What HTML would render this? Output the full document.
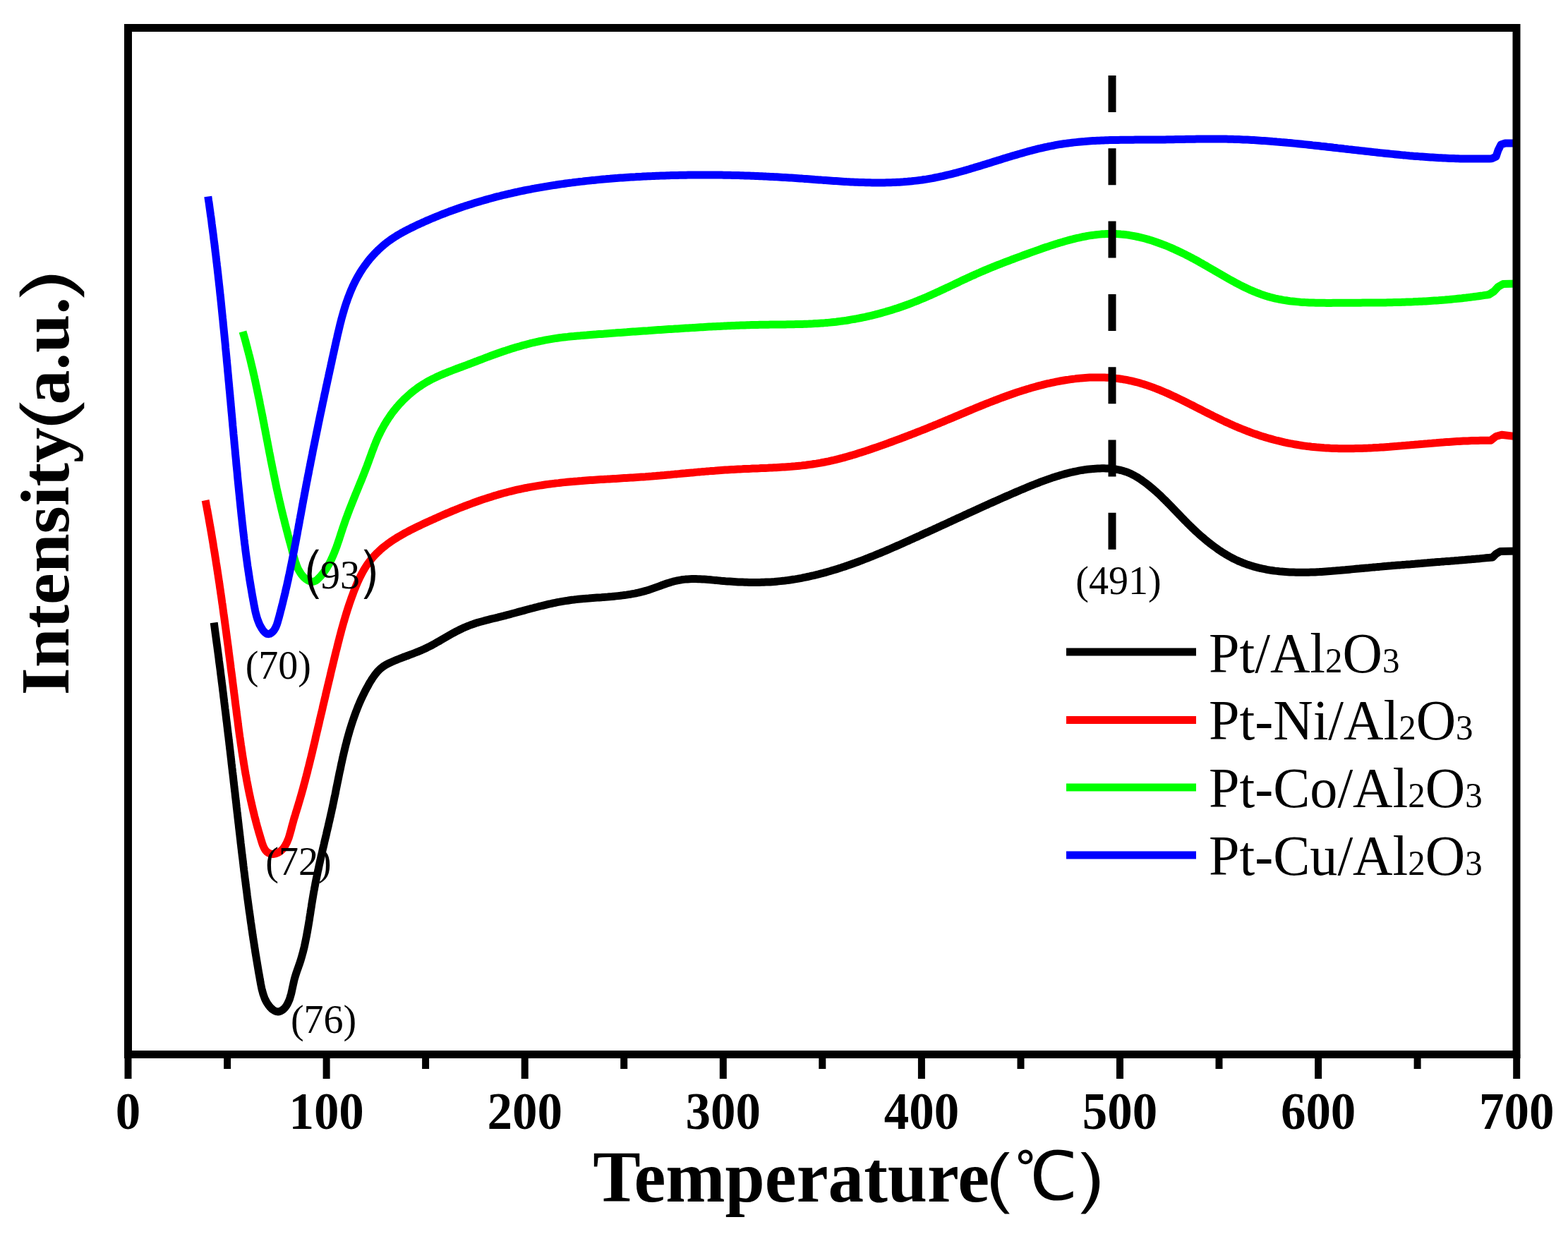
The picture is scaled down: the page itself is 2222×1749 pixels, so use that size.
<!DOCTYPE html><html><head><meta charset="utf-8"><title>TPR</title><style>html,body{margin:0;padding:0;background:#fff;overflow:hidden}svg{display:block}.b{font-family:"Liberation Serif","Noto Serif CJK SC",serif;font-weight:bold}.r{font-family:"Liberation Serif","Noto Serif CJK SC",serif;font-weight:normal}</style></head><body><svg xmlns="http://www.w3.org/2000/svg" width="2222" height="1749" viewBox="0 0 2222 1749"><rect width="2222" height="1749" fill="#fff"/><path d="M303.2 882.6 L303.6 885.6 L304.0 888.5 L304.4 891.5 L304.8 894.4 L305.2 897.4 L305.6 900.3 L306.0 903.3 L306.4 906.2 L306.8 909.2 L307.2 912.2 L307.6 915.1 L308.0 918.1 L308.4 921.1 L308.8 924.0 L309.2 927.0 L309.6 930.0 L310.0 932.9 L310.3 935.9 L310.7 938.9 L311.1 941.8 L311.5 944.8 L311.9 947.8 L312.3 950.8 L312.6 953.7 L313.0 956.7 L313.4 959.7 L313.8 962.7 L314.1 965.6 L314.5 968.6 L314.9 971.6 L315.3 974.6 L315.6 977.5 L316.0 980.5 L316.4 983.5 L316.7 986.5 L317.1 989.5 L317.5 992.4 L317.8 995.4 L318.2 998.4 L318.6 1001.4 L318.9 1004.4 L319.3 1007.3 L319.7 1010.3 L320.0 1013.3 L320.4 1016.3 L320.7 1019.3 L321.1 1022.3 L321.5 1025.2 L321.8 1028.2 L322.2 1031.2 L322.5 1034.2 L322.9 1037.2 L323.2 1040.2 L323.6 1043.1 L324.0 1046.1 L324.3 1049.1 L324.7 1052.1 L325.0 1055.1 L325.4 1058.1 L325.7 1061.1 L326.1 1064.0 L326.4 1067.0 L326.8 1070.0 L327.1 1073.0 L327.5 1076.0 L327.8 1079.0 L328.1 1081.9 L328.5 1084.9 L328.8 1087.9 L329.2 1090.9 L329.5 1093.9 L329.9 1096.8 L330.2 1099.8 L330.6 1102.8 L330.9 1105.8 L331.2 1108.8 L331.6 1111.7 L331.9 1114.7 L332.3 1117.7 L332.6 1120.7 L333.0 1123.6 L333.3 1126.6 L333.6 1129.6 L334.0 1132.6 L334.3 1135.5 L334.7 1138.5 L335.0 1141.5 L335.3 1144.4 L335.7 1147.4 L336.0 1150.4 L336.4 1153.4 L336.7 1156.3 L337.0 1159.3 L337.4 1162.3 L337.7 1165.2 L338.1 1168.2 L338.4 1171.2 L338.7 1174.1 L339.1 1177.1 L339.4 1180.0 L339.8 1183.0 L340.1 1186.0 L340.5 1188.9 L340.8 1191.9 L341.1 1194.9 L341.5 1197.8 L341.8 1200.8 L342.2 1203.7 L342.5 1206.7 L342.9 1209.7 L343.2 1212.6 L343.6 1215.6 L344.0 1218.5 L344.3 1221.5 L344.7 1224.5 L345.0 1227.4 L345.4 1230.4 L345.7 1233.4 L346.1 1236.3 L346.5 1239.3 L346.8 1242.2 L347.2 1245.2 L347.6 1248.2 L348.0 1251.1 L348.3 1254.1 L348.7 1257.1 L349.1 1260.0 L349.5 1263.0 L349.9 1266.0 L350.2 1268.9 L350.6 1271.9 L351.0 1274.9 L351.4 1277.8 L351.8 1280.8 L352.2 1283.8 L352.6 1286.7 L353.0 1289.7 L353.4 1292.7 L353.9 1295.7 L354.3 1298.6 L354.7 1301.6 L355.1 1304.6 L355.5 1307.6 L356.0 1310.5 L356.4 1313.5 L356.8 1316.5 L357.3 1319.5 L357.7 1322.5 L358.1 1325.4 L358.6 1328.4 L359.0 1331.4 L359.5 1334.4 L360.0 1337.4 L360.4 1340.4 L360.9 1343.4 L361.4 1346.4 L361.8 1349.4 L362.3 1352.4 L362.8 1355.3 L363.3 1358.3 L363.8 1361.3 L364.3 1364.4 L364.8 1367.4 L365.3 1370.4 L365.8 1373.4 L366.3 1376.4 L366.8 1379.4 L367.4 1382.4 L367.9 1385.4 L368.4 1388.4 L369.0 1391.5 L369.5 1394.5 L370.1 1397.5 L370.7 1400.4 L371.4 1403.4 L372.2 1406.3 L373.0 1409.2 L374.0 1412.0 L375.0 1414.7 L376.2 1417.4 L377.5 1419.9 L379.0 1422.4 L380.7 1424.8 L382.5 1427.1 L384.5 1429.2 L386.6 1431.0 L388.9 1432.5 L391.2 1433.5 L393.5 1433.9 L395.9 1433.7 L398.1 1432.8 L400.3 1431.5 L402.4 1429.7 L404.3 1427.7 L405.9 1425.4 L407.4 1422.9 L408.7 1420.2 L409.9 1417.4 L410.9 1414.4 L411.8 1411.4 L412.7 1408.3 L413.4 1405.1 L414.1 1401.9 L414.8 1398.6 L415.5 1395.4 L416.2 1392.2 L416.9 1389.1 L417.7 1386.1 L418.6 1383.1 L419.5 1380.3 L420.4 1377.5 L421.4 1374.7 L422.4 1371.9 L423.3 1369.2 L424.3 1366.5 L425.2 1363.8 L426.1 1361.0 L426.9 1358.2 L427.7 1355.4 L428.5 1352.6 L429.3 1349.8 L430.0 1346.9 L430.7 1344.1 L431.4 1341.2 L432.0 1338.3 L432.6 1335.4 L433.2 1332.5 L433.8 1329.5 L434.4 1326.6 L434.9 1323.7 L435.5 1320.7 L436.0 1317.7 L436.5 1314.8 L437.0 1311.8 L437.5 1308.8 L438.0 1305.8 L438.5 1302.8 L438.9 1299.8 L439.4 1296.8 L439.9 1293.8 L440.3 1290.8 L440.8 1287.8 L441.3 1284.8 L441.7 1281.8 L442.2 1278.8 L442.7 1275.9 L443.2 1272.9 L443.7 1269.9 L444.2 1266.9 L444.7 1263.9 L445.3 1261.0 L445.8 1258.0 L446.4 1255.1 L446.9 1252.1 L447.5 1249.2 L448.1 1246.2 L448.7 1243.3 L449.3 1240.4 L449.9 1237.4 L450.5 1234.5 L451.2 1231.6 L451.8 1228.7 L452.4 1225.7 L453.1 1222.8 L453.7 1219.9 L454.4 1217.0 L455.0 1214.1 L455.7 1211.2 L456.4 1208.3 L457.0 1205.4 L457.7 1202.5 L458.4 1199.6 L459.1 1196.7 L459.7 1193.8 L460.4 1190.9 L461.1 1188.0 L461.8 1185.1 L462.5 1182.2 L463.1 1179.3 L463.8 1176.4 L464.5 1173.5 L465.2 1170.6 L465.8 1167.7 L466.5 1164.8 L467.2 1161.9 L467.8 1159.0 L468.5 1156.1 L469.1 1153.1 L469.8 1150.2 L470.4 1147.3 L471.1 1144.4 L471.7 1141.4 L472.3 1138.5 L472.9 1135.6 L473.5 1132.6 L474.1 1129.7 L474.8 1126.7 L475.4 1123.8 L475.9 1120.8 L476.5 1117.9 L477.1 1114.9 L477.7 1112.0 L478.3 1109.0 L478.9 1106.1 L479.5 1103.1 L480.1 1100.1 L480.7 1097.2 L481.3 1094.2 L482.0 1091.3 L482.6 1088.3 L483.2 1085.4 L483.8 1082.4 L484.5 1079.5 L485.1 1076.6 L485.8 1073.6 L486.4 1070.7 L487.1 1067.7 L487.8 1064.8 L488.5 1061.9 L489.2 1059.0 L489.9 1056.1 L490.7 1053.1 L491.4 1050.2 L492.2 1047.3 L493.0 1044.4 L493.8 1041.6 L494.6 1038.7 L495.4 1035.8 L496.3 1032.9 L497.2 1030.1 L498.1 1027.2 L499.0 1024.4 L499.9 1021.6 L500.9 1018.7 L501.9 1015.9 L502.9 1013.1 L503.9 1010.3 L505.0 1007.5 L506.0 1004.8 L507.1 1002.0 L508.3 999.2 L509.4 996.5 L510.6 993.8 L511.8 991.0 L513.1 988.3 L514.4 985.6 L515.7 983.0 L517.0 980.3 L518.4 977.6 L519.8 975.0 L521.3 972.4 L522.7 969.7 L524.2 967.1 L525.8 964.6 L527.4 962.0 L529.1 959.5 L530.8 957.1 L532.6 954.7 L534.5 952.4 L536.5 950.3 L538.6 948.2 L540.9 946.3 L543.3 944.5 L545.8 942.9 L548.5 941.4 L551.2 940.0 L554.0 938.7 L556.8 937.5 L559.6 936.3 L562.4 935.1 L565.2 934.0 L568.0 932.9 L570.8 931.8 L573.6 930.8 L576.4 929.7 L579.2 928.7 L582.0 927.6 L584.8 926.6 L587.6 925.5 L590.4 924.4 L593.1 923.3 L595.9 922.2 L598.6 921.0 L601.4 919.8 L604.1 918.5 L606.7 917.2 L609.4 915.9 L612.1 914.5 L614.7 913.0 L617.3 911.6 L619.9 910.1 L622.6 908.6 L625.2 907.1 L627.8 905.6 L630.4 904.1 L633.0 902.6 L635.6 901.1 L638.2 899.6 L640.8 898.1 L643.5 896.6 L646.1 895.2 L648.8 893.8 L651.4 892.5 L654.1 891.2 L656.8 889.9 L659.6 888.7 L662.3 887.6 L665.1 886.5 L667.9 885.4 L670.7 884.5 L673.5 883.5 L676.3 882.6 L679.2 881.8 L682.1 881.0 L685.0 880.2 L687.9 879.4 L690.8 878.7 L693.7 877.9 L696.6 877.2 L699.5 876.5 L702.4 875.8 L705.3 875.1 L708.2 874.3 L711.2 873.6 L714.1 872.9 L717.0 872.1 L719.9 871.3 L722.8 870.6 L725.7 869.8 L728.6 869.0 L731.5 868.2 L734.4 867.4 L737.3 866.6 L740.2 865.9 L743.1 865.1 L746.0 864.3 L748.9 863.5 L751.8 862.7 L754.7 862.0 L757.6 861.2 L760.5 860.5 L763.4 859.7 L766.3 859.0 L769.2 858.3 L772.2 857.6 L775.1 856.9 L778.0 856.2 L780.9 855.6 L783.8 854.9 L786.8 854.3 L789.7 853.7 L792.6 853.2 L795.6 852.6 L798.5 852.1 L801.4 851.6 L804.4 851.2 L807.4 850.7 L810.3 850.3 L813.3 850.0 L816.3 849.6 L819.2 849.3 L822.2 849.0 L825.2 848.7 L828.2 848.4 L831.2 848.2 L834.2 848.0 L837.2 847.7 L840.2 847.5 L843.2 847.3 L846.1 847.1 L849.1 846.9 L852.1 846.7 L855.1 846.4 L858.1 846.2 L861.1 846.0 L864.1 845.7 L867.1 845.5 L870.1 845.2 L873.1 844.9 L876.0 844.6 L879.0 844.3 L882.0 843.9 L884.9 843.5 L887.9 843.1 L890.8 842.6 L893.8 842.2 L896.7 841.6 L899.7 841.1 L902.6 840.5 L905.5 839.8 L908.4 839.1 L911.3 838.4 L914.2 837.6 L917.1 836.8 L920.0 835.9 L922.8 834.9 L925.7 833.9 L928.5 832.9 L931.4 831.9 L934.2 830.9 L937.0 829.8 L939.9 828.8 L942.7 827.8 L945.5 826.8 L948.4 825.9 L951.2 825.0 L954.1 824.2 L957.0 823.5 L959.8 822.8 L962.7 822.3 L965.6 821.8 L968.5 821.4 L971.4 821.1 L974.3 820.9 L977.3 820.7 L980.2 820.6 L983.2 820.6 L986.1 820.6 L989.1 820.7 L992.0 820.8 L995.0 820.9 L998.0 821.1 L1001.0 821.3 L1004.0 821.6 L1007.0 821.8 L1010.0 822.1 L1013.0 822.4 L1016.0 822.6 L1019.0 822.9 L1022.0 823.2 L1025.0 823.4 L1028.1 823.7 L1031.1 823.9 L1034.1 824.1 L1037.1 824.3 L1040.1 824.5 L1043.2 824.7 L1046.2 824.9 L1049.2 825.0 L1052.2 825.1 L1055.3 825.2 L1058.3 825.3 L1061.3 825.4 L1064.3 825.4 L1067.4 825.5 L1070.4 825.5 L1073.4 825.4 L1076.4 825.4 L1079.4 825.3 L1082.4 825.3 L1085.4 825.1 L1088.4 825.0 L1091.4 824.9 L1094.4 824.7 L1097.4 824.5 L1100.4 824.2 L1103.3 823.9 L1106.3 823.6 L1109.3 823.3 L1112.2 823.0 L1115.2 822.6 L1118.2 822.2 L1121.1 821.8 L1124.1 821.3 L1127.0 820.9 L1129.9 820.4 L1132.9 819.8 L1135.8 819.3 L1138.7 818.7 L1141.6 818.1 L1144.5 817.5 L1147.4 816.9 L1150.3 816.2 L1153.2 815.6 L1156.1 814.9 L1159.0 814.2 L1161.9 813.4 L1164.8 812.7 L1167.7 811.9 L1170.6 811.1 L1173.4 810.3 L1176.3 809.5 L1179.2 808.6 L1182.0 807.7 L1184.9 806.9 L1187.7 806.0 L1190.6 805.1 L1193.4 804.1 L1196.3 803.2 L1199.1 802.2 L1201.9 801.3 L1204.8 800.3 L1207.6 799.3 L1210.4 798.3 L1213.2 797.2 L1216.0 796.2 L1218.9 795.1 L1221.7 794.1 L1224.5 793.0 L1227.3 791.9 L1230.1 790.8 L1232.9 789.7 L1235.7 788.6 L1238.5 787.5 L1241.2 786.3 L1244.0 785.2 L1246.8 784.1 L1249.6 782.9 L1252.4 781.7 L1255.1 780.6 L1257.9 779.4 L1260.7 778.2 L1263.4 777.0 L1266.2 775.8 L1269.0 774.6 L1271.7 773.4 L1274.5 772.2 L1277.2 771.0 L1280.0 769.7 L1282.7 768.5 L1285.5 767.3 L1288.2 766.1 L1290.9 764.8 L1293.7 763.6 L1296.4 762.3 L1299.2 761.1 L1301.9 759.9 L1304.6 758.6 L1307.3 757.4 L1310.1 756.1 L1312.8 754.9 L1315.5 753.7 L1318.2 752.4 L1321.0 751.2 L1323.7 749.9 L1326.4 748.7 L1329.1 747.4 L1331.8 746.2 L1334.5 744.9 L1337.2 743.7 L1340.0 742.4 L1342.7 741.2 L1345.4 739.9 L1348.1 738.7 L1350.8 737.4 L1353.5 736.2 L1356.2 734.9 L1358.9 733.7 L1361.7 732.4 L1364.4 731.2 L1367.1 729.9 L1369.8 728.7 L1372.5 727.4 L1375.2 726.2 L1377.9 725.0 L1380.7 723.7 L1383.4 722.5 L1386.1 721.2 L1388.8 720.0 L1391.5 718.8 L1394.3 717.5 L1397.0 716.3 L1399.7 715.1 L1402.4 713.8 L1405.2 712.6 L1407.9 711.4 L1410.6 710.2 L1413.4 708.9 L1416.1 707.7 L1418.9 706.5 L1421.6 705.3 L1424.3 704.1 L1427.1 702.9 L1429.9 701.7 L1432.6 700.5 L1435.4 699.3 L1438.1 698.1 L1440.9 696.9 L1443.7 695.7 L1446.4 694.5 L1449.2 693.4 L1452.0 692.2 L1454.8 691.0 L1457.5 689.9 L1460.3 688.7 L1463.1 687.6 L1465.9 686.5 L1468.7 685.4 L1471.5 684.3 L1474.3 683.2 L1477.2 682.1 L1480.0 681.1 L1482.8 680.1 L1485.6 679.1 L1488.5 678.1 L1491.3 677.1 L1494.2 676.2 L1497.0 675.3 L1499.9 674.4 L1502.7 673.5 L1505.6 672.7 L1508.5 671.9 L1511.4 671.1 L1514.3 670.4 L1517.2 669.7 L1520.1 669.0 L1523.0 668.4 L1525.9 667.8 L1528.8 667.2 L1531.7 666.7 L1534.7 666.2 L1537.6 665.7 L1540.6 665.3 L1543.5 665.0 L1546.5 664.7 L1549.5 664.4 L1552.5 664.2 L1555.5 664.0 L1558.5 663.9 L1561.5 663.8 L1564.5 663.8 L1567.5 663.9 L1570.5 664.0 L1573.4 664.2 L1576.4 664.5 L1579.4 664.9 L1582.3 665.3 L1585.3 665.9 L1588.2 666.5 L1591.1 667.3 L1594.0 668.2 L1596.8 669.1 L1599.6 670.2 L1602.4 671.4 L1605.1 672.8 L1607.8 674.2 L1610.5 675.7 L1613.1 677.3 L1615.7 679.0 L1618.2 680.8 L1620.7 682.6 L1623.2 684.4 L1625.6 686.2 L1628.0 688.1 L1630.3 690.0 L1632.6 691.9 L1634.9 693.9 L1637.1 695.8 L1639.3 697.8 L1641.5 699.8 L1643.7 701.8 L1645.8 703.8 L1647.9 705.9 L1650.0 707.9 L1652.1 710.0 L1654.2 712.1 L1656.2 714.2 L1658.3 716.3 L1660.3 718.4 L1662.3 720.5 L1664.4 722.6 L1666.4 724.7 L1668.5 726.9 L1670.5 729.0 L1672.6 731.1 L1674.6 733.3 L1676.7 735.4 L1678.8 737.6 L1680.9 739.7 L1683.0 741.8 L1685.1 743.9 L1687.3 746.1 L1689.5 748.2 L1691.7 750.3 L1693.9 752.4 L1696.2 754.5 L1698.4 756.5 L1700.7 758.6 L1703.0 760.6 L1705.4 762.6 L1707.7 764.6 L1710.1 766.6 L1712.5 768.5 L1714.9 770.4 L1717.3 772.3 L1719.8 774.1 L1722.3 775.9 L1724.7 777.7 L1727.2 779.5 L1729.8 781.2 L1732.3 782.8 L1734.9 784.4 L1737.5 786.0 L1740.1 787.5 L1742.7 789.0 L1745.3 790.4 L1747.9 791.8 L1750.6 793.1 L1753.3 794.4 L1756.0 795.6 L1758.7 796.7 L1761.4 797.8 L1764.2 798.9 L1766.9 799.9 L1769.7 800.8 L1772.5 801.7 L1775.3 802.6 L1778.1 803.4 L1780.9 804.1 L1783.7 804.9 L1786.6 805.5 L1789.4 806.2 L1792.3 806.7 L1795.2 807.3 L1798.1 807.8 L1801.0 808.3 L1803.9 808.7 L1806.8 809.1 L1809.7 809.4 L1812.6 809.8 L1815.6 810.1 L1818.5 810.3 L1821.5 810.5 L1824.5 810.7 L1827.4 810.9 L1830.4 811.0 L1833.4 811.1 L1836.4 811.2 L1839.4 811.3 L1842.4 811.3 L1845.4 811.3 L1848.5 811.3 L1851.5 811.2 L1854.5 811.2 L1857.5 811.1 L1860.6 811.0 L1863.6 810.9 L1866.6 810.7 L1869.7 810.6 L1872.7 810.4 L1875.7 810.2 L1878.8 810.0 L1881.8 809.8 L1884.9 809.6 L1887.9 809.3 L1891.0 809.1 L1894.0 808.8 L1897.1 808.6 L1900.1 808.3 L1903.1 808.0 L1906.2 807.8 L1909.2 807.5 L1912.3 807.2 L1915.3 806.9 L1918.3 806.6 L1921.3 806.3 L1924.4 806.1 L1927.4 805.8 L1930.4 805.5 L1933.4 805.2 L1936.4 804.9 L1939.4 804.7 L1942.4 804.4 L1945.4 804.1 L1948.4 803.9 L1951.4 803.6 L1954.3 803.4 L1957.3 803.1 L1960.3 802.8 L1963.3 802.6 L1966.2 802.3 L1969.2 802.1 L1972.2 801.8 L1975.1 801.6 L1978.1 801.3 L1981.1 801.1 L1984.0 800.9 L1987.0 800.6 L1989.9 800.4 L1992.9 800.1 L1995.8 799.9 L1998.8 799.7 L2001.7 799.4 L2004.7 799.2 L2007.6 798.9 L2010.6 798.7 L2013.5 798.5 L2016.5 798.2 L2019.4 798.0 L2022.4 797.8 L2025.4 797.5 L2028.3 797.3 L2031.3 797.1 L2034.2 796.8 L2037.2 796.6 L2040.1 796.4 L2043.1 796.1 L2046.0 795.9 L2049.0 795.6 L2052.0 795.4 L2054.9 795.2 L2057.9 794.9 L2060.9 794.7 L2063.9 794.4 L2066.8 794.2 L2069.8 793.9 L2072.8 793.7 L2075.8 793.5 L2078.8 793.2 L2081.8 792.9 L2084.8 792.7 L2087.8 792.4 L2090.8 792.2 L2093.8 791.9 L2096.8 791.7 L2099.8 791.4 L2102.9 791.1 L2105.9 790.8 L2108.9 790.6 L2112.0 790.3 L2115.0 790.0 L2120.0 785.0 L2126.0 781.5 L2150.0 781.0" fill="none" stroke="#000" stroke-width="11" stroke-linejoin="round" stroke-linecap="butt"/><path d="M291.1 709.1 L291.7 712.0 L292.2 715.0 L292.8 717.9 L293.3 720.8 L293.9 723.8 L294.4 726.7 L294.9 729.7 L295.5 732.6 L296.0 735.6 L296.5 738.5 L297.0 741.4 L297.5 744.4 L298.1 747.3 L298.6 750.3 L299.1 753.2 L299.6 756.2 L300.1 759.1 L300.6 762.1 L301.1 765.1 L301.6 768.0 L302.1 771.0 L302.5 773.9 L303.0 776.9 L303.5 779.9 L304.0 782.8 L304.5 785.8 L304.9 788.7 L305.4 791.7 L305.9 794.7 L306.3 797.6 L306.8 800.6 L307.3 803.6 L307.7 806.5 L308.2 809.5 L308.6 812.5 L309.1 815.4 L309.5 818.4 L310.0 821.4 L310.4 824.4 L310.9 827.3 L311.3 830.3 L311.7 833.3 L312.2 836.2 L312.6 839.2 L313.0 842.2 L313.5 845.2 L313.9 848.1 L314.3 851.1 L314.7 854.1 L315.2 857.1 L315.6 860.1 L316.0 863.0 L316.4 866.0 L316.8 869.0 L317.2 872.0 L317.7 874.9 L318.1 877.9 L318.5 880.9 L318.9 883.9 L319.3 886.9 L319.7 889.8 L320.1 892.8 L320.5 895.8 L320.9 898.8 L321.3 901.8 L321.7 904.7 L322.1 907.7 L322.5 910.7 L322.9 913.7 L323.3 916.6 L323.7 919.6 L324.0 922.6 L324.4 925.6 L324.8 928.6 L325.2 931.5 L325.6 934.5 L326.0 937.5 L326.4 940.5 L326.8 943.4 L327.1 946.4 L327.5 949.4 L327.9 952.4 L328.3 955.3 L328.7 958.3 L329.1 961.3 L329.4 964.3 L329.8 967.2 L330.2 970.2 L330.6 973.2 L331.0 976.2 L331.3 979.1 L331.7 982.1 L332.1 985.1 L332.5 988.0 L332.9 991.0 L333.2 994.0 L333.6 996.9 L334.0 999.9 L334.4 1002.9 L334.8 1005.8 L335.1 1008.8 L335.5 1011.8 L335.9 1014.7 L336.3 1017.7 L336.7 1020.6 L337.1 1023.6 L337.4 1026.6 L337.8 1029.5 L338.2 1032.5 L338.6 1035.4 L339.0 1038.4 L339.4 1041.4 L339.8 1044.3 L340.3 1047.3 L340.7 1050.2 L341.1 1053.2 L341.5 1056.1 L342.0 1059.1 L342.4 1062.0 L342.8 1065.0 L343.3 1068.0 L343.7 1070.9 L344.2 1073.9 L344.7 1076.8 L345.1 1079.8 L345.6 1082.7 L346.1 1085.7 L346.6 1088.6 L347.1 1091.6 L347.6 1094.5 L348.1 1097.5 L348.7 1100.4 L349.2 1103.4 L349.7 1106.3 L350.3 1109.3 L350.9 1112.3 L351.4 1115.2 L352.0 1118.2 L352.6 1121.1 L353.2 1124.1 L353.8 1127.0 L354.5 1130.0 L355.1 1132.9 L355.8 1135.9 L356.4 1138.8 L357.1 1141.8 L357.8 1144.7 L358.5 1147.7 L359.2 1150.6 L359.9 1153.6 L360.6 1156.6 L361.4 1159.5 L362.2 1162.5 L362.9 1165.4 L363.7 1168.4 L364.5 1171.3 L365.4 1174.3 L366.2 1177.3 L367.0 1180.2 L367.9 1183.2 L368.8 1186.1 L369.7 1189.1 L370.6 1192.1 L371.5 1195.0 L372.5 1197.9 L373.7 1200.7 L375.0 1203.2 L376.5 1205.5 L378.3 1207.4 L380.4 1208.8 L382.8 1209.9 L385.3 1210.4 L388.0 1210.4 L390.6 1209.9 L393.2 1208.9 L395.7 1207.6 L398.0 1205.9 L400.1 1204.0 L402.0 1201.8 L403.6 1199.4 L405.1 1196.8 L406.5 1194.1 L407.7 1191.2 L408.9 1188.2 L409.9 1185.1 L410.8 1181.9 L411.7 1178.7 L412.6 1175.6 L413.4 1172.4 L414.2 1169.3 L415.1 1166.2 L415.9 1163.3 L416.7 1160.3 L417.6 1157.5 L418.5 1154.6 L419.3 1151.8 L420.2 1149.0 L421.0 1146.3 L421.9 1143.5 L422.7 1140.7 L423.5 1137.9 L424.4 1135.1 L425.2 1132.3 L426.0 1129.5 L426.8 1126.7 L427.6 1123.9 L428.4 1121.0 L429.2 1118.2 L430.0 1115.3 L430.7 1112.5 L431.5 1109.6 L432.3 1106.7 L433.0 1103.8 L433.8 1100.9 L434.5 1098.1 L435.3 1095.2 L436.0 1092.3 L436.7 1089.3 L437.5 1086.4 L438.2 1083.5 L438.9 1080.6 L439.6 1077.7 L440.4 1074.7 L441.1 1071.8 L441.8 1068.9 L442.5 1065.9 L443.2 1063.0 L443.9 1060.0 L444.6 1057.1 L445.3 1054.2 L446.0 1051.2 L446.7 1048.3 L447.3 1045.3 L448.0 1042.4 L448.7 1039.4 L449.4 1036.5 L450.1 1033.6 L450.8 1030.6 L451.5 1027.7 L452.2 1024.7 L452.8 1021.8 L453.5 1018.9 L454.2 1015.9 L454.9 1013.0 L455.6 1010.1 L456.3 1007.2 L457.0 1004.2 L457.6 1001.3 L458.3 998.4 L459.0 995.5 L459.7 992.5 L460.4 989.6 L461.1 986.7 L461.7 983.8 L462.4 980.9 L463.1 978.0 L463.8 975.1 L464.5 972.1 L465.2 969.2 L465.9 966.3 L466.6 963.4 L467.3 960.5 L468.0 957.6 L468.6 954.7 L469.3 951.8 L470.0 948.9 L470.7 946.0 L471.4 943.1 L472.1 940.2 L472.8 937.3 L473.5 934.4 L474.2 931.5 L474.9 928.6 L475.6 925.7 L476.3 922.8 L477.1 919.9 L477.8 917.0 L478.5 914.1 L479.2 911.2 L480.0 908.3 L480.7 905.5 L481.4 902.6 L482.2 899.7 L483.0 896.8 L483.7 893.9 L484.5 891.0 L485.3 888.1 L486.1 885.3 L486.9 882.4 L487.8 879.5 L488.6 876.6 L489.5 873.7 L490.3 870.9 L491.2 868.0 L492.1 865.1 L493.0 862.3 L494.0 859.4 L494.9 856.5 L495.9 853.7 L496.9 850.8 L497.9 847.9 L498.9 845.1 L500.0 842.2 L501.0 839.4 L502.1 836.5 L503.3 833.7 L504.4 830.8 L505.6 828.0 L506.8 825.2 L508.1 822.4 L509.3 819.7 L510.7 817.0 L512.0 814.3 L513.5 811.6 L514.9 809.0 L516.4 806.4 L518.0 803.9 L519.6 801.4 L521.3 799.0 L523.0 796.6 L524.8 794.3 L526.6 792.0 L528.5 789.8 L530.5 787.6 L532.5 785.5 L534.6 783.4 L536.7 781.4 L538.8 779.4 L541.0 777.5 L543.3 775.6 L545.6 773.8 L547.9 772.0 L550.3 770.2 L552.7 768.5 L555.1 766.8 L557.6 765.2 L560.1 763.6 L562.6 762.0 L565.2 760.4 L567.8 758.9 L570.4 757.4 L573.1 755.9 L575.7 754.5 L578.4 753.1 L581.1 751.6 L583.8 750.3 L586.5 748.9 L589.3 747.6 L592.0 746.2 L594.8 744.9 L597.5 743.6 L600.3 742.3 L603.1 741.0 L605.8 739.7 L608.6 738.5 L611.4 737.2 L614.2 736.0 L616.9 734.7 L619.7 733.5 L622.5 732.2 L625.3 731.0 L628.0 729.8 L630.8 728.6 L633.6 727.4 L636.4 726.3 L639.1 725.1 L641.9 723.9 L644.7 722.8 L647.5 721.7 L650.3 720.5 L653.1 719.4 L655.9 718.3 L658.7 717.2 L661.5 716.2 L664.3 715.1 L667.1 714.1 L669.9 713.0 L672.7 712.0 L675.5 711.0 L678.3 710.0 L681.1 709.0 L683.9 708.1 L686.8 707.1 L689.6 706.2 L692.4 705.3 L695.3 704.4 L698.1 703.5 L700.9 702.6 L703.8 701.8 L706.6 700.9 L709.5 700.1 L712.4 699.3 L715.2 698.5 L718.1 697.8 L721.0 697.0 L723.8 696.3 L726.7 695.6 L729.6 694.9 L732.5 694.2 L735.4 693.6 L738.3 693.0 L741.2 692.3 L744.1 691.7 L747.1 691.2 L750.0 690.6 L752.9 690.1 L755.9 689.6 L758.8 689.1 L761.7 688.6 L764.7 688.1 L767.6 687.7 L770.6 687.2 L773.6 686.8 L776.5 686.4 L779.5 686.0 L782.5 685.6 L785.4 685.3 L788.4 684.9 L791.4 684.6 L794.4 684.2 L797.4 683.9 L800.4 683.6 L803.3 683.3 L806.3 683.0 L809.3 682.7 L812.3 682.5 L815.3 682.2 L818.3 682.0 L821.3 681.7 L824.4 681.5 L827.4 681.2 L830.4 681.0 L833.4 680.8 L836.4 680.6 L839.4 680.4 L842.4 680.2 L845.4 680.0 L848.4 679.8 L851.5 679.6 L854.5 679.4 L857.5 679.2 L860.5 679.1 L863.5 678.9 L866.5 678.7 L869.6 678.5 L872.6 678.4 L875.6 678.2 L878.6 678.0 L881.6 677.8 L884.6 677.6 L887.6 677.5 L890.6 677.3 L893.6 677.1 L896.7 676.9 L899.7 676.7 L902.7 676.5 L905.7 676.3 L908.7 676.1 L911.7 675.9 L914.6 675.7 L917.6 675.4 L920.6 675.2 L923.6 675.0 L926.6 674.7 L929.6 674.5 L932.6 674.2 L935.5 674.0 L938.5 673.7 L941.5 673.5 L944.5 673.2 L947.4 672.9 L950.4 672.7 L953.4 672.4 L956.3 672.1 L959.3 671.9 L962.3 671.6 L965.2 671.3 L968.2 671.0 L971.2 670.8 L974.1 670.5 L977.1 670.2 L980.1 669.9 L983.0 669.7 L986.0 669.4 L989.0 669.1 L992.0 668.9 L994.9 668.6 L997.9 668.4 L1000.9 668.1 L1003.8 667.9 L1006.8 667.6 L1009.8 667.4 L1012.8 667.2 L1015.7 666.9 L1018.7 666.7 L1021.7 666.5 L1024.7 666.3 L1027.7 666.1 L1030.7 665.9 L1033.7 665.7 L1036.7 665.5 L1039.7 665.4 L1042.7 665.2 L1045.7 665.0 L1048.7 664.9 L1051.7 664.8 L1054.7 664.6 L1057.7 664.5 L1060.7 664.4 L1063.7 664.3 L1066.7 664.1 L1069.7 664.0 L1072.8 663.9 L1075.8 663.8 L1078.8 663.6 L1081.8 663.5 L1084.8 663.4 L1087.8 663.3 L1090.9 663.1 L1093.9 663.0 L1096.9 662.8 L1099.9 662.7 L1102.9 662.5 L1105.9 662.3 L1108.9 662.1 L1111.9 661.9 L1114.9 661.7 L1117.9 661.5 L1120.9 661.3 L1123.9 661.0 L1126.9 660.8 L1129.9 660.5 L1132.9 660.2 L1135.9 659.9 L1138.9 659.5 L1141.9 659.2 L1144.8 658.8 L1147.8 658.4 L1150.8 658.0 L1153.7 657.5 L1156.7 657.1 L1159.6 656.6 L1162.6 656.1 L1165.5 655.5 L1168.4 655.0 L1171.3 654.4 L1174.3 653.8 L1177.2 653.1 L1180.1 652.5 L1183.0 651.8 L1185.9 651.1 L1188.8 650.4 L1191.7 649.6 L1194.6 648.9 L1197.4 648.1 L1200.3 647.3 L1203.2 646.4 L1206.1 645.6 L1208.9 644.8 L1211.8 643.9 L1214.7 643.0 L1217.5 642.1 L1220.4 641.2 L1223.2 640.3 L1226.1 639.4 L1228.9 638.4 L1231.7 637.5 L1234.6 636.5 L1237.4 635.5 L1240.3 634.6 L1243.1 633.6 L1245.9 632.6 L1248.7 631.6 L1251.6 630.6 L1254.4 629.6 L1257.2 628.6 L1260.0 627.5 L1262.9 626.5 L1265.7 625.5 L1268.5 624.4 L1271.3 623.4 L1274.1 622.4 L1276.9 621.3 L1279.7 620.2 L1282.5 619.2 L1285.3 618.1 L1288.1 617.0 L1290.9 616.0 L1293.7 614.9 L1296.5 613.8 L1299.3 612.7 L1302.1 611.6 L1304.9 610.5 L1307.7 609.4 L1310.5 608.3 L1313.3 607.2 L1316.1 606.0 L1318.8 604.9 L1321.6 603.8 L1324.4 602.6 L1327.2 601.5 L1330.0 600.4 L1332.7 599.2 L1335.5 598.1 L1338.3 596.9 L1341.0 595.7 L1343.8 594.6 L1346.6 593.4 L1349.3 592.3 L1352.1 591.1 L1354.9 589.9 L1357.6 588.8 L1360.4 587.6 L1363.2 586.4 L1365.9 585.3 L1368.7 584.1 L1371.5 582.9 L1374.2 581.8 L1377.0 580.6 L1379.8 579.5 L1382.5 578.3 L1385.3 577.2 L1388.1 576.1 L1390.9 574.9 L1393.6 573.8 L1396.4 572.7 L1399.2 571.6 L1402.0 570.5 L1404.8 569.4 L1407.6 568.3 L1410.4 567.2 L1413.2 566.2 L1416.0 565.1 L1418.8 564.0 L1421.6 563.0 L1424.4 562.0 L1427.2 561.0 L1430.0 560.0 L1432.8 559.0 L1435.7 558.0 L1438.5 557.0 L1441.3 556.1 L1444.2 555.1 L1447.0 554.2 L1449.9 553.3 L1452.7 552.4 L1455.6 551.5 L1458.5 550.7 L1461.4 549.8 L1464.2 549.0 L1467.1 548.2 L1470.0 547.4 L1472.9 546.6 L1475.9 545.9 L1478.8 545.1 L1481.7 544.4 L1484.6 543.7 L1487.6 543.1 L1490.5 542.4 L1493.5 541.8 L1496.4 541.2 L1499.4 540.6 L1502.4 540.0 L1505.3 539.5 L1508.3 539.0 L1511.3 538.5 L1514.3 538.1 L1517.3 537.6 L1520.3 537.2 L1523.3 536.9 L1526.2 536.5 L1529.2 536.2 L1532.2 535.9 L1535.2 535.7 L1538.2 535.5 L1541.2 535.3 L1544.2 535.1 L1547.2 535.0 L1550.2 534.9 L1553.2 534.9 L1556.2 534.9 L1559.2 534.9 L1562.2 535.0 L1565.1 535.0 L1568.1 535.2 L1571.1 535.3 L1574.0 535.6 L1577.0 535.8 L1580.0 536.1 L1582.9 536.4 L1585.8 536.8 L1588.8 537.2 L1591.7 537.7 L1594.6 538.1 L1597.5 538.7 L1600.4 539.3 L1603.3 539.9 L1606.2 540.6 L1609.1 541.3 L1612.0 542.0 L1614.8 542.8 L1617.7 543.7 L1620.5 544.5 L1623.4 545.4 L1626.2 546.4 L1629.0 547.4 L1631.9 548.4 L1634.7 549.4 L1637.5 550.5 L1640.3 551.6 L1643.1 552.7 L1645.8 553.8 L1648.6 555.0 L1651.4 556.2 L1654.2 557.4 L1656.9 558.6 L1659.7 559.9 L1662.4 561.2 L1665.2 562.4 L1667.9 563.7 L1670.7 565.1 L1673.4 566.4 L1676.1 567.7 L1678.8 569.1 L1681.6 570.4 L1684.3 571.8 L1687.0 573.2 L1689.7 574.5 L1692.4 575.9 L1695.1 577.3 L1697.8 578.7 L1700.5 580.0 L1703.2 581.4 L1705.9 582.8 L1708.6 584.2 L1711.3 585.5 L1714.0 586.9 L1716.7 588.2 L1719.4 589.6 L1722.1 590.9 L1724.7 592.2 L1727.4 593.5 L1730.1 594.8 L1732.8 596.1 L1735.5 597.4 L1738.2 598.6 L1740.9 599.8 L1743.6 601.1 L1746.3 602.3 L1749.0 603.5 L1751.7 604.6 L1754.4 605.8 L1757.1 606.9 L1759.9 608.0 L1762.6 609.1 L1765.4 610.2 L1768.1 611.3 L1770.9 612.3 L1773.7 613.4 L1776.5 614.4 L1779.3 615.3 L1782.1 616.3 L1784.9 617.2 L1787.8 618.2 L1790.7 619.1 L1793.5 619.9 L1796.4 620.8 L1799.3 621.6 L1802.2 622.4 L1805.1 623.2 L1808.0 624.0 L1811.0 624.7 L1813.9 625.4 L1816.9 626.1 L1819.8 626.8 L1822.8 627.5 L1825.7 628.1 L1828.7 628.7 L1831.6 629.2 L1834.6 629.8 L1837.6 630.3 L1840.6 630.8 L1843.5 631.2 L1846.5 631.7 L1849.5 632.1 L1852.4 632.5 L1855.4 632.8 L1858.4 633.2 L1861.4 633.5 L1864.4 633.8 L1867.3 634.1 L1870.3 634.3 L1873.3 634.5 L1876.3 634.8 L1879.3 634.9 L1882.2 635.1 L1885.2 635.3 L1888.2 635.4 L1891.2 635.5 L1894.2 635.6 L1897.2 635.7 L1900.1 635.7 L1903.1 635.7 L1906.1 635.8 L1909.1 635.8 L1912.1 635.8 L1915.1 635.7 L1918.1 635.7 L1921.1 635.6 L1924.1 635.6 L1927.0 635.5 L1930.0 635.4 L1933.0 635.3 L1936.0 635.2 L1939.0 635.1 L1942.0 634.9 L1945.0 634.8 L1948.0 634.6 L1951.0 634.4 L1954.0 634.3 L1957.0 634.1 L1960.0 633.9 L1963.0 633.7 L1966.0 633.5 L1968.9 633.3 L1971.9 633.0 L1974.9 632.8 L1977.9 632.6 L1980.9 632.3 L1983.9 632.1 L1986.9 631.8 L1989.9 631.6 L1992.9 631.3 L1995.9 631.1 L1998.9 630.8 L2001.9 630.6 L2004.9 630.3 L2007.9 630.1 L2010.9 629.8 L2013.9 629.5 L2016.9 629.3 L2019.9 629.0 L2022.9 628.8 L2025.9 628.5 L2028.9 628.3 L2031.9 628.0 L2034.9 627.8 L2037.9 627.5 L2040.9 627.3 L2043.9 627.1 L2046.9 626.8 L2049.9 626.6 L2052.8 626.4 L2055.8 626.2 L2058.8 626.0 L2061.8 625.8 L2064.8 625.6 L2067.8 625.5 L2070.8 625.3 L2073.8 625.1 L2076.8 625.0 L2079.8 624.9 L2082.8 624.7 L2085.8 624.6 L2088.8 624.5 L2091.8 624.4 L2094.8 624.4 L2097.7 624.3 L2100.7 624.3 L2103.7 624.2 L2106.7 624.2 L2109.7 624.2 L2112.7 624.2 L2120.0 618.5 L2128.0 616.3 L2150.0 618.9" fill="none" stroke="#f00" stroke-width="11" stroke-linejoin="round" stroke-linecap="butt"/><path d="M344.0 470.0 L344.8 472.9 L345.7 475.7 L346.5 478.6 L347.3 481.4 L348.1 484.3 L348.8 487.2 L349.6 490.1 L350.4 493.0 L351.1 495.9 L351.9 498.7 L352.6 501.6 L353.4 504.5 L354.1 507.4 L354.8 510.3 L355.5 513.3 L356.2 516.2 L356.9 519.1 L357.6 522.0 L358.3 524.9 L358.9 527.9 L359.6 530.8 L360.3 533.7 L360.9 536.7 L361.6 539.6 L362.2 542.5 L362.8 545.5 L363.5 548.4 L364.1 551.3 L364.7 554.3 L365.3 557.2 L365.9 560.2 L366.5 563.1 L367.2 566.1 L367.8 569.0 L368.3 572.0 L368.9 575.0 L369.5 577.9 L370.1 580.9 L370.7 583.8 L371.3 586.8 L371.9 589.7 L372.4 592.7 L373.0 595.7 L373.6 598.6 L374.2 601.6 L374.7 604.5 L375.3 607.5 L375.9 610.5 L376.4 613.4 L377.0 616.4 L377.6 619.3 L378.1 622.3 L378.7 625.2 L379.3 628.2 L379.8 631.1 L380.4 634.1 L381.0 637.0 L381.5 640.0 L382.1 642.9 L382.7 645.9 L383.3 648.8 L383.8 651.8 L384.4 654.7 L385.0 657.7 L385.6 660.6 L386.2 663.5 L386.8 666.5 L387.4 669.4 L388.0 672.3 L388.6 675.2 L389.2 678.2 L389.8 681.1 L390.4 684.0 L391.0 686.9 L391.6 689.8 L392.2 692.7 L392.9 695.6 L393.5 698.5 L394.2 701.4 L394.8 704.3 L395.5 707.2 L396.1 710.0 L396.8 712.9 L397.5 715.8 L398.1 718.7 L398.8 721.5 L399.5 724.4 L400.2 727.3 L400.9 730.1 L401.6 733.0 L402.4 735.9 L403.1 738.8 L403.8 741.6 L404.5 744.5 L405.3 747.4 L406.0 750.3 L406.8 753.2 L407.6 756.2 L408.3 759.1 L409.1 762.0 L409.9 765.0 L410.7 768.0 L411.5 770.9 L412.3 773.9 L413.1 776.9 L413.9 780.0 L414.7 783.0 L415.6 786.1 L416.4 789.2 L417.3 792.2 L418.2 795.2 L419.2 798.2 L420.3 801.2 L421.4 804.0 L422.7 806.8 L424.1 809.4 L425.6 811.9 L427.2 814.3 L429.1 816.6 L431.1 818.6 L433.2 820.5 L435.5 822.1 L437.9 823.3 L440.4 824.1 L442.8 824.3 L445.2 824.0 L447.6 823.0 L449.8 821.3 L451.9 819.3 L454.0 817.1 L455.9 814.9 L457.8 812.5 L459.5 810.1 L461.2 807.7 L462.9 805.2 L464.4 802.6 L465.9 800.1 L467.3 797.4 L468.7 794.7 L470.0 792.0 L471.2 789.3 L472.4 786.5 L473.6 783.7 L474.7 780.8 L475.8 778.0 L476.9 775.1 L477.9 772.2 L478.9 769.3 L479.9 766.4 L480.9 763.5 L481.8 760.5 L482.8 757.6 L483.7 754.7 L484.7 751.8 L485.6 748.9 L486.6 746.0 L487.6 743.1 L488.6 740.2 L489.6 737.3 L490.6 734.5 L491.7 731.7 L492.7 728.9 L493.8 726.1 L494.8 723.3 L495.9 720.5 L497.0 717.7 L498.1 714.9 L499.2 712.2 L500.3 709.4 L501.4 706.7 L502.5 703.9 L503.6 701.2 L504.7 698.5 L505.9 695.7 L507.0 693.0 L508.1 690.2 L509.2 687.5 L510.3 684.8 L511.5 682.0 L512.6 679.3 L513.7 676.5 L514.8 673.8 L515.9 671.0 L517.0 668.2 L518.0 665.5 L519.1 662.7 L520.2 659.9 L521.2 657.1 L522.3 654.2 L523.3 651.4 L524.3 648.6 L525.4 645.7 L526.4 642.9 L527.4 640.1 L528.5 637.2 L529.6 634.4 L530.6 631.6 L531.8 628.8 L532.9 626.0 L534.1 623.2 L535.3 620.4 L536.6 617.7 L537.9 615.0 L539.2 612.3 L540.6 609.6 L542.0 607.0 L543.5 604.3 L544.9 601.7 L546.5 599.2 L548.0 596.6 L549.7 594.1 L551.3 591.6 L553.0 589.2 L554.7 586.7 L556.5 584.3 L558.3 582.0 L560.2 579.6 L562.1 577.3 L564.1 575.1 L566.0 572.8 L568.1 570.6 L570.1 568.5 L572.2 566.3 L574.4 564.2 L576.6 562.2 L578.8 560.2 L581.0 558.2 L583.3 556.3 L585.6 554.4 L588.0 552.6 L590.4 550.8 L592.8 549.1 L595.3 547.4 L597.8 545.7 L600.3 544.1 L602.8 542.6 L605.4 541.1 L608.0 539.7 L610.7 538.2 L613.3 536.9 L616.0 535.6 L618.7 534.3 L621.5 533.0 L624.2 531.8 L627.0 530.6 L629.7 529.4 L632.5 528.3 L635.3 527.2 L638.1 526.1 L640.9 525.0 L643.8 523.9 L646.6 522.8 L649.4 521.8 L652.2 520.7 L655.1 519.7 L657.9 518.6 L660.7 517.6 L663.5 516.5 L666.3 515.5 L669.1 514.4 L671.9 513.3 L674.7 512.3 L677.5 511.2 L680.3 510.1 L683.0 509.1 L685.8 508.0 L688.6 506.9 L691.4 505.9 L694.2 504.8 L697.0 503.8 L699.8 502.8 L702.6 501.8 L705.4 500.8 L708.3 499.8 L711.1 498.8 L713.9 497.8 L716.8 496.9 L719.6 495.9 L722.5 495.0 L725.4 494.1 L728.2 493.2 L731.1 492.3 L734.0 491.5 L736.9 490.7 L739.8 489.8 L742.7 489.0 L745.6 488.3 L748.5 487.5 L751.4 486.7 L754.3 486.0 L757.2 485.3 L760.2 484.7 L763.1 484.0 L766.0 483.4 L769.0 482.8 L771.9 482.2 L774.9 481.6 L777.8 481.1 L780.8 480.6 L783.7 480.1 L786.7 479.6 L789.6 479.2 L792.6 478.8 L795.6 478.4 L798.5 478.0 L801.5 477.7 L804.5 477.4 L807.4 477.0 L810.4 476.7 L813.4 476.5 L816.4 476.2 L819.4 475.9 L822.3 475.7 L825.3 475.4 L828.3 475.2 L831.3 475.0 L834.3 474.7 L837.3 474.5 L840.3 474.3 L843.2 474.1 L846.2 473.8 L849.2 473.6 L852.2 473.4 L855.2 473.2 L858.2 472.9 L861.2 472.7 L864.2 472.5 L867.2 472.3 L870.2 472.1 L873.2 471.8 L876.2 471.6 L879.2 471.4 L882.2 471.2 L885.1 471.0 L888.1 470.8 L891.1 470.5 L894.1 470.3 L897.1 470.1 L900.1 469.9 L903.1 469.7 L906.1 469.5 L909.1 469.3 L912.1 469.1 L915.1 468.9 L918.1 468.7 L921.1 468.4 L924.1 468.2 L927.1 468.0 L930.1 467.8 L933.1 467.6 L936.1 467.4 L939.1 467.2 L942.0 467.0 L945.0 466.8 L948.0 466.6 L951.0 466.4 L954.0 466.3 L957.0 466.1 L960.0 465.9 L963.0 465.7 L966.0 465.5 L969.0 465.3 L972.0 465.1 L974.9 464.9 L977.9 464.7 L980.9 464.6 L983.9 464.4 L986.9 464.2 L989.9 464.0 L992.9 463.8 L995.8 463.7 L998.8 463.5 L1001.8 463.3 L1004.8 463.1 L1007.8 463.0 L1010.8 462.8 L1013.7 462.7 L1016.7 462.5 L1019.7 462.4 L1022.7 462.2 L1025.7 462.1 L1028.7 461.9 L1031.7 461.8 L1034.6 461.7 L1037.6 461.5 L1040.6 461.4 L1043.6 461.3 L1046.6 461.2 L1049.6 461.1 L1052.6 461.0 L1055.6 460.9 L1058.6 460.8 L1061.6 460.7 L1064.6 460.6 L1067.6 460.5 L1070.6 460.5 L1073.6 460.4 L1076.6 460.3 L1079.6 460.3 L1082.6 460.2 L1085.6 460.2 L1088.6 460.2 L1091.6 460.1 L1094.7 460.1 L1097.7 460.1 L1100.7 460.0 L1103.7 460.0 L1106.7 460.0 L1109.7 459.9 L1112.8 459.9 L1115.8 459.8 L1118.8 459.8 L1121.8 459.7 L1124.8 459.7 L1127.8 459.6 L1130.8 459.6 L1133.9 459.5 L1136.9 459.4 L1139.9 459.3 L1142.9 459.2 L1145.9 459.1 L1148.9 458.9 L1151.9 458.8 L1154.9 458.6 L1157.9 458.5 L1160.9 458.3 L1163.9 458.1 L1166.9 457.9 L1169.9 457.6 L1172.8 457.4 L1175.8 457.1 L1178.8 456.8 L1181.8 456.5 L1184.7 456.2 L1187.7 455.8 L1190.7 455.4 L1193.6 455.0 L1196.6 454.6 L1199.5 454.2 L1202.5 453.7 L1205.4 453.2 L1208.3 452.7 L1211.3 452.2 L1214.2 451.7 L1217.1 451.1 L1220.1 450.5 L1223.0 449.9 L1225.9 449.3 L1228.8 448.6 L1231.7 448.0 L1234.6 447.3 L1237.5 446.6 L1240.4 445.9 L1243.3 445.1 L1246.2 444.4 L1249.0 443.6 L1251.9 442.8 L1254.8 442.0 L1257.6 441.1 L1260.5 440.3 L1263.4 439.4 L1266.2 438.5 L1269.1 437.6 L1271.9 436.7 L1274.7 435.7 L1277.6 434.7 L1280.4 433.7 L1283.2 432.7 L1286.0 431.7 L1288.9 430.7 L1291.7 429.6 L1294.5 428.5 L1297.3 427.4 L1300.1 426.3 L1302.8 425.2 L1305.6 424.0 L1308.4 422.9 L1311.2 421.7 L1314.0 420.5 L1316.7 419.3 L1319.5 418.1 L1322.2 416.8 L1325.0 415.6 L1327.7 414.3 L1330.5 413.1 L1333.2 411.8 L1336.0 410.5 L1338.7 409.2 L1341.4 407.9 L1344.2 406.7 L1346.9 405.4 L1349.6 404.1 L1352.4 402.8 L1355.1 401.5 L1357.8 400.2 L1360.5 398.9 L1363.3 397.6 L1366.0 396.3 L1368.7 395.1 L1371.4 393.8 L1374.1 392.6 L1376.8 391.3 L1379.6 390.1 L1382.3 388.9 L1385.0 387.6 L1387.7 386.5 L1390.4 385.3 L1393.2 384.1 L1395.9 382.9 L1398.6 381.8 L1401.3 380.7 L1404.1 379.5 L1406.8 378.4 L1409.5 377.3 L1412.3 376.2 L1415.0 375.1 L1417.8 374.1 L1420.5 373.0 L1423.3 371.9 L1426.0 370.9 L1428.8 369.8 L1431.5 368.8 L1434.3 367.7 L1437.1 366.7 L1439.9 365.6 L1442.7 364.6 L1445.5 363.6 L1448.3 362.5 L1451.1 361.5 L1453.9 360.5 L1456.7 359.5 L1459.6 358.4 L1462.4 357.4 L1465.3 356.4 L1468.1 355.4 L1471.0 354.4 L1473.9 353.3 L1476.7 352.3 L1479.6 351.3 L1482.5 350.3 L1485.4 349.4 L1488.3 348.4 L1491.2 347.4 L1494.1 346.5 L1497.1 345.6 L1500.0 344.6 L1502.9 343.8 L1505.9 342.9 L1508.8 342.0 L1511.7 341.2 L1514.7 340.4 L1517.6 339.6 L1520.6 338.9 L1523.5 338.1 L1526.5 337.4 L1529.4 336.8 L1532.4 336.1 L1535.3 335.5 L1538.3 335.0 L1541.2 334.4 L1544.2 333.9 L1547.2 333.5 L1550.1 333.1 L1553.1 332.7 L1556.0 332.4 L1559.0 332.1 L1561.9 331.8 L1564.9 331.7 L1567.8 331.5 L1570.8 331.4 L1573.7 331.4 L1576.6 331.4 L1579.6 331.4 L1582.5 331.6 L1585.4 331.7 L1588.4 332.0 L1591.3 332.2 L1594.2 332.5 L1597.1 332.9 L1600.0 333.3 L1602.9 333.8 L1605.8 334.3 L1608.7 334.9 L1611.6 335.5 L1614.5 336.1 L1617.4 336.8 L1620.2 337.5 L1623.1 338.3 L1626.0 339.1 L1628.8 339.9 L1631.7 340.8 L1634.5 341.7 L1637.4 342.7 L1640.2 343.7 L1643.0 344.7 L1645.8 345.7 L1648.7 346.8 L1651.5 347.9 L1654.3 349.0 L1657.1 350.2 L1659.8 351.4 L1662.6 352.6 L1665.4 353.9 L1668.1 355.1 L1670.9 356.4 L1673.6 357.7 L1676.4 359.1 L1679.1 360.4 L1681.8 361.8 L1684.5 363.2 L1687.2 364.6 L1689.9 366.0 L1692.6 367.5 L1695.3 368.9 L1698.0 370.4 L1700.6 371.9 L1703.3 373.4 L1705.9 374.9 L1708.6 376.4 L1711.2 377.9 L1713.8 379.4 L1716.4 380.9 L1719.0 382.4 L1721.6 384.0 L1724.2 385.5 L1726.8 387.0 L1729.4 388.5 L1732.0 390.0 L1734.6 391.5 L1737.2 393.0 L1739.8 394.5 L1742.4 396.0 L1745.0 397.4 L1747.6 398.8 L1750.2 400.3 L1752.8 401.7 L1755.4 403.0 L1758.0 404.4 L1760.7 405.7 L1763.3 407.0 L1766.0 408.3 L1768.6 409.5 L1771.3 410.8 L1774.0 411.9 L1776.7 413.1 L1779.4 414.2 L1782.1 415.3 L1784.9 416.3 L1787.6 417.3 L1790.4 418.3 L1793.2 419.2 L1796.0 420.1 L1798.8 420.9 L1801.7 421.7 L1804.5 422.4 L1807.4 423.1 L1810.3 423.7 L1813.2 424.3 L1816.2 424.8 L1819.1 425.4 L1822.1 425.8 L1825.1 426.3 L1828.0 426.7 L1831.0 427.0 L1834.1 427.3 L1837.1 427.6 L1840.1 427.9 L1843.1 428.2 L1846.2 428.4 L1849.2 428.6 L1852.3 428.7 L1855.4 428.9 L1858.4 429.0 L1861.5 429.1 L1864.6 429.2 L1867.6 429.2 L1870.7 429.3 L1873.8 429.3 L1876.8 429.3 L1879.9 429.4 L1883.0 429.4 L1886.0 429.4 L1889.1 429.3 L1892.1 429.3 L1895.2 429.3 L1898.2 429.3 L1901.3 429.3 L1904.3 429.3 L1907.3 429.2 L1910.3 429.2 L1913.3 429.2 L1916.3 429.2 L1919.2 429.2 L1922.2 429.2 L1925.2 429.2 L1928.1 429.2 L1931.1 429.1 L1934.1 429.1 L1937.0 429.1 L1940.0 429.1 L1942.9 429.1 L1945.9 429.1 L1948.8 429.0 L1951.8 429.0 L1954.7 429.0 L1957.7 428.9 L1960.6 428.9 L1963.6 428.9 L1966.5 428.8 L1969.5 428.7 L1972.4 428.7 L1975.4 428.6 L1978.4 428.6 L1981.4 428.5 L1984.4 428.4 L1987.3 428.3 L1990.3 428.2 L1993.3 428.1 L1996.3 428.0 L1999.3 427.9 L2002.3 427.8 L2005.4 427.6 L2008.4 427.5 L2011.4 427.3 L2014.4 427.2 L2017.4 427.0 L2020.4 426.9 L2023.4 426.7 L2026.5 426.5 L2029.5 426.3 L2032.5 426.1 L2035.5 425.9 L2038.5 425.7 L2041.5 425.4 L2044.6 425.2 L2047.6 425.0 L2050.6 424.7 L2053.6 424.5 L2056.6 424.2 L2059.6 423.9 L2062.6 423.6 L2065.6 423.3 L2068.6 423.0 L2071.6 422.7 L2074.6 422.3 L2077.6 422.0 L2080.5 421.6 L2083.5 421.3 L2086.5 420.9 L2089.4 420.5 L2092.4 420.1 L2095.3 419.7 L2098.3 419.3 L2101.2 418.9 L2104.2 418.4 L2107.1 418.0 L2110.0 417.5 L2117.0 413.0 L2123.0 406.5 L2130.0 402.5 L2150.0 402.0" fill="none" stroke="#0f0" stroke-width="11" stroke-linejoin="round" stroke-linecap="butt"/><path d="M294.8 278.4 L295.2 281.4 L295.6 284.3 L296.1 287.3 L296.5 290.3 L296.9 293.2 L297.3 296.2 L297.7 299.1 L298.1 302.1 L298.5 305.1 L299.0 308.0 L299.4 311.0 L299.8 314.0 L300.1 316.9 L300.5 319.9 L300.9 322.9 L301.3 325.8 L301.7 328.8 L302.1 331.8 L302.5 334.8 L302.8 337.7 L303.2 340.7 L303.6 343.7 L304.0 346.6 L304.3 349.6 L304.7 352.6 L305.0 355.6 L305.4 358.5 L305.8 361.5 L306.1 364.5 L306.5 367.5 L306.8 370.4 L307.2 373.4 L307.5 376.4 L307.9 379.4 L308.2 382.3 L308.5 385.3 L308.9 388.3 L309.2 391.3 L309.5 394.3 L309.9 397.2 L310.2 400.2 L310.5 403.2 L310.9 406.2 L311.2 409.2 L311.5 412.1 L311.8 415.1 L312.1 418.1 L312.5 421.1 L312.8 424.1 L313.1 427.1 L313.4 430.0 L313.7 433.0 L314.0 436.0 L314.3 439.0 L314.6 442.0 L314.9 445.0 L315.2 447.9 L315.5 450.9 L315.9 453.9 L316.1 456.9 L316.4 459.9 L316.7 462.9 L317.0 465.8 L317.3 468.8 L317.6 471.8 L317.9 474.8 L318.2 477.8 L318.5 480.8 L318.8 483.8 L319.1 486.7 L319.4 489.7 L319.6 492.7 L319.9 495.7 L320.2 498.7 L320.5 501.7 L320.8 504.7 L321.1 507.7 L321.3 510.6 L321.6 513.6 L321.9 516.6 L322.2 519.6 L322.5 522.6 L322.7 525.6 L323.0 528.6 L323.3 531.6 L323.6 534.5 L323.8 537.5 L324.1 540.5 L324.4 543.5 L324.7 546.5 L324.9 549.5 L325.2 552.5 L325.5 555.4 L325.8 558.4 L326.0 561.4 L326.3 564.4 L326.6 567.4 L326.9 570.4 L327.1 573.4 L327.4 576.4 L327.7 579.3 L327.9 582.3 L328.2 585.3 L328.5 588.3 L328.8 591.3 L329.0 594.3 L329.3 597.2 L329.6 600.2 L329.8 603.2 L330.1 606.2 L330.4 609.2 L330.7 612.2 L330.9 615.2 L331.2 618.1 L331.5 621.1 L331.8 624.1 L332.0 627.1 L332.3 630.1 L332.6 633.0 L332.9 636.0 L333.2 639.0 L333.4 642.0 L333.7 645.0 L334.0 648.0 L334.3 650.9 L334.6 653.9 L334.8 656.9 L335.1 659.9 L335.4 662.8 L335.7 665.8 L336.0 668.8 L336.3 671.8 L336.5 674.8 L336.8 677.7 L337.1 680.7 L337.4 683.7 L337.7 686.7 L338.0 689.6 L338.3 692.6 L338.6 695.6 L338.9 698.6 L339.2 701.5 L339.5 704.5 L339.8 707.5 L340.1 710.5 L340.4 713.4 L340.7 716.4 L341.0 719.4 L341.3 722.3 L341.6 725.3 L341.9 728.3 L342.2 731.2 L342.6 734.2 L342.9 737.2 L343.2 740.2 L343.5 743.1 L343.9 746.1 L344.2 749.1 L344.5 752.0 L344.9 755.0 L345.2 758.0 L345.6 760.9 L345.9 763.9 L346.3 766.9 L346.6 769.9 L347.0 772.8 L347.4 775.8 L347.7 778.8 L348.1 781.7 L348.5 784.7 L348.9 787.7 L349.3 790.7 L349.7 793.6 L350.1 796.6 L350.5 799.6 L350.9 802.6 L351.4 805.6 L351.8 808.5 L352.3 811.5 L352.7 814.5 L353.2 817.5 L353.6 820.5 L354.1 823.5 L354.6 826.5 L355.1 829.5 L355.6 832.4 L356.1 835.4 L356.6 838.4 L357.1 841.4 L357.6 844.4 L358.2 847.4 L358.7 850.4 L359.3 853.4 L359.8 856.4 L360.4 859.4 L361.0 862.4 L361.6 865.4 L362.3 868.4 L363.0 871.3 L363.8 874.2 L364.7 877.1 L365.7 879.9 L366.8 882.6 L367.9 885.3 L369.3 887.9 L370.7 890.4 L372.3 892.8 L374.1 895.1 L376.1 897.0 L378.1 898.3 L380.3 898.7 L382.6 898.2 L384.9 896.8 L386.9 894.9 L388.7 892.7 L390.2 890.2 L391.4 887.5 L392.5 884.7 L393.4 881.8 L394.2 878.8 L395.1 875.9 L395.9 872.9 L396.7 869.9 L397.4 866.9 L398.2 864.0 L399.0 861.0 L399.7 858.0 L400.5 855.1 L401.2 852.1 L401.9 849.2 L402.6 846.2 L403.4 843.2 L404.1 840.3 L404.7 837.3 L405.4 834.4 L406.1 831.4 L406.8 828.5 L407.4 825.5 L408.1 822.6 L408.7 819.6 L409.3 816.7 L410.0 813.7 L410.6 810.8 L411.2 807.8 L411.8 804.9 L412.4 801.9 L413.0 799.0 L413.6 796.0 L414.2 793.1 L414.8 790.1 L415.4 787.2 L415.9 784.2 L416.5 781.3 L417.1 778.4 L417.6 775.4 L418.2 772.5 L418.8 769.5 L419.3 766.6 L419.9 763.7 L420.4 760.7 L421.0 757.8 L421.5 754.9 L422.0 751.9 L422.6 749.0 L423.1 746.1 L423.7 743.1 L424.2 740.2 L424.7 737.2 L425.3 734.3 L425.8 731.4 L426.4 728.4 L426.9 725.5 L427.4 722.6 L428.0 719.7 L428.5 716.7 L429.0 713.8 L429.6 710.9 L430.1 707.9 L430.7 705.0 L431.2 702.1 L431.8 699.1 L432.3 696.2 L432.9 693.3 L433.4 690.3 L434.0 687.4 L434.5 684.5 L435.1 681.6 L435.7 678.6 L436.2 675.7 L436.8 672.8 L437.4 669.8 L437.9 666.9 L438.5 664.0 L439.1 661.1 L439.7 658.1 L440.2 655.2 L440.8 652.3 L441.4 649.3 L442.0 646.4 L442.6 643.5 L443.1 640.5 L443.7 637.6 L444.3 634.7 L444.9 631.8 L445.5 628.8 L446.1 625.9 L446.7 623.0 L447.3 620.0 L447.9 617.1 L448.5 614.2 L449.1 611.2 L449.7 608.3 L450.3 605.4 L450.9 602.4 L451.5 599.5 L452.1 596.6 L452.7 593.7 L453.3 590.7 L453.9 587.8 L454.5 584.9 L455.2 581.9 L455.8 579.0 L456.4 576.1 L457.0 573.1 L457.6 570.2 L458.3 567.2 L458.9 564.3 L459.5 561.4 L460.1 558.4 L460.8 555.5 L461.4 552.6 L462.0 549.6 L462.6 546.7 L463.3 543.7 L463.9 540.8 L464.5 537.9 L465.2 534.9 L465.8 532.0 L466.5 529.0 L467.1 526.1 L467.7 523.2 L468.4 520.2 L469.0 517.3 L469.7 514.3 L470.3 511.4 L470.9 508.4 L471.6 505.5 L472.2 502.5 L472.9 499.6 L473.5 496.6 L474.2 493.7 L474.8 490.7 L475.5 487.8 L476.1 484.8 L476.8 481.9 L477.5 478.9 L478.1 476.0 L478.8 473.0 L479.5 470.1 L480.2 467.2 L480.9 464.2 L481.6 461.3 L482.3 458.4 L483.1 455.5 L483.8 452.5 L484.6 449.6 L485.4 446.7 L486.2 443.9 L487.1 441.0 L487.9 438.1 L488.8 435.3 L489.7 432.4 L490.6 429.6 L491.6 426.8 L492.6 424.0 L493.6 421.2 L494.7 418.4 L495.8 415.6 L496.9 412.9 L498.0 410.2 L499.2 407.5 L500.4 404.8 L501.7 402.1 L503.0 399.5 L504.4 396.8 L505.8 394.2 L507.2 391.6 L508.7 389.1 L510.2 386.5 L511.8 384.0 L513.4 381.5 L515.1 379.0 L516.8 376.6 L518.6 374.2 L520.4 371.8 L522.2 369.4 L524.1 367.1 L526.0 364.9 L528.0 362.6 L530.0 360.4 L532.1 358.2 L534.2 356.1 L536.3 354.0 L538.5 352.0 L540.7 350.0 L543.0 348.0 L545.3 346.1 L547.6 344.2 L550.0 342.4 L552.4 340.6 L554.9 338.9 L557.3 337.2 L559.9 335.6 L562.4 334.0 L565.0 332.4 L567.6 330.9 L570.3 329.5 L572.9 328.0 L575.6 326.6 L578.3 325.2 L581.0 323.9 L583.7 322.5 L586.4 321.2 L589.1 319.9 L591.9 318.6 L594.6 317.4 L597.3 316.1 L600.1 314.9 L602.8 313.6 L605.6 312.4 L608.4 311.2 L611.1 310.0 L613.9 308.9 L616.7 307.7 L619.5 306.6 L622.2 305.5 L625.0 304.3 L627.8 303.2 L630.6 302.2 L633.4 301.1 L636.2 300.0 L639.0 299.0 L641.9 298.0 L644.7 297.0 L647.5 296.0 L650.3 295.0 L653.2 294.0 L656.0 293.1 L658.8 292.1 L661.7 291.2 L664.5 290.3 L667.4 289.4 L670.2 288.5 L673.1 287.6 L675.9 286.7 L678.8 285.9 L681.7 285.0 L684.5 284.2 L687.4 283.4 L690.3 282.6 L693.2 281.8 L696.1 281.0 L698.9 280.2 L701.8 279.4 L704.7 278.7 L707.6 278.0 L710.5 277.2 L713.4 276.5 L716.3 275.8 L719.2 275.1 L722.2 274.5 L725.1 273.8 L728.0 273.1 L730.9 272.5 L733.8 271.9 L736.8 271.2 L739.7 270.6 L742.6 270.0 L745.5 269.4 L748.5 268.8 L751.4 268.3 L754.4 267.7 L757.3 267.2 L760.2 266.6 L763.2 266.1 L766.1 265.6 L769.1 265.1 L772.0 264.6 L775.0 264.1 L777.9 263.6 L780.9 263.1 L783.9 262.6 L786.8 262.2 L789.8 261.7 L792.8 261.3 L795.7 260.9 L798.7 260.5 L801.7 260.0 L804.6 259.6 L807.6 259.2 L810.6 258.9 L813.5 258.5 L816.5 258.1 L819.5 257.8 L822.5 257.4 L825.5 257.1 L828.4 256.7 L831.4 256.4 L834.4 256.1 L837.4 255.8 L840.4 255.4 L843.4 255.2 L846.3 254.9 L849.3 254.6 L852.3 254.3 L855.3 254.0 L858.3 253.8 L861.3 253.5 L864.3 253.3 L867.3 253.0 L870.3 252.8 L873.3 252.6 L876.2 252.3 L879.2 252.1 L882.2 251.9 L885.2 251.7 L888.2 251.5 L891.2 251.3 L894.2 251.1 L897.2 250.9 L900.2 250.8 L903.2 250.6 L906.2 250.4 L909.2 250.3 L912.2 250.1 L915.1 250.0 L918.1 249.8 L921.1 249.7 L924.1 249.6 L927.1 249.4 L930.1 249.3 L933.1 249.2 L936.1 249.1 L939.1 249.0 L942.1 248.9 L945.1 248.8 L948.0 248.7 L951.0 248.6 L954.0 248.5 L957.0 248.5 L960.0 248.4 L963.0 248.3 L966.0 248.3 L969.0 248.2 L972.0 248.2 L975.0 248.1 L978.0 248.1 L980.9 248.1 L983.9 248.0 L986.9 248.0 L989.9 248.0 L992.9 248.0 L995.9 248.0 L998.9 248.0 L1001.9 248.0 L1004.9 248.0 L1007.9 248.0 L1010.8 248.0 L1013.8 248.0 L1016.8 248.1 L1019.8 248.1 L1022.8 248.1 L1025.8 248.2 L1028.8 248.2 L1031.8 248.3 L1034.8 248.3 L1037.8 248.4 L1040.8 248.5 L1043.8 248.6 L1046.8 248.6 L1049.7 248.7 L1052.7 248.8 L1055.7 248.9 L1058.7 249.0 L1061.7 249.1 L1064.7 249.2 L1067.7 249.3 L1070.7 249.4 L1073.7 249.5 L1076.7 249.7 L1079.7 249.8 L1082.7 249.9 L1085.7 250.1 L1088.7 250.2 L1091.7 250.4 L1094.7 250.5 L1097.7 250.7 L1100.7 250.8 L1103.7 251.0 L1106.7 251.2 L1109.7 251.4 L1112.7 251.5 L1115.7 251.7 L1118.7 251.9 L1121.7 252.1 L1124.7 252.3 L1127.7 252.5 L1130.7 252.7 L1133.7 252.9 L1136.7 253.1 L1139.7 253.4 L1142.7 253.6 L1145.7 253.8 L1148.7 254.0 L1151.7 254.2 L1154.7 254.5 L1157.7 254.7 L1160.7 254.9 L1163.7 255.1 L1166.7 255.4 L1169.7 255.6 L1172.7 255.8 L1175.7 256.0 L1178.7 256.2 L1181.7 256.4 L1184.7 256.6 L1187.7 256.8 L1190.7 257.0 L1193.7 257.2 L1196.7 257.4 L1199.7 257.6 L1202.7 257.7 L1205.7 257.9 L1208.7 258.0 L1211.7 258.2 L1214.7 258.3 L1217.7 258.4 L1220.7 258.5 L1223.7 258.6 L1226.7 258.7 L1229.6 258.8 L1232.6 258.8 L1235.6 258.9 L1238.6 258.9 L1241.6 259.0 L1244.6 259.0 L1247.5 259.0 L1250.5 258.9 L1253.5 258.9 L1256.5 258.8 L1259.4 258.8 L1262.4 258.7 L1265.4 258.6 L1268.3 258.5 L1271.3 258.3 L1274.3 258.2 L1277.2 258.0 L1280.2 257.8 L1283.1 257.5 L1286.1 257.3 L1289.1 257.0 L1292.0 256.8 L1294.9 256.4 L1297.9 256.1 L1300.8 255.8 L1303.8 255.4 L1306.7 255.0 L1309.6 254.5 L1312.6 254.1 L1315.5 253.6 L1318.4 253.1 L1321.4 252.6 L1324.3 252.0 L1327.2 251.4 L1330.1 250.8 L1333.0 250.2 L1335.9 249.6 L1338.9 248.9 L1341.8 248.2 L1344.7 247.5 L1347.6 246.8 L1350.5 246.1 L1353.4 245.3 L1356.3 244.6 L1359.2 243.8 L1362.1 243.0 L1365.0 242.2 L1367.9 241.4 L1370.8 240.5 L1373.7 239.7 L1376.6 238.8 L1379.5 238.0 L1382.3 237.1 L1385.2 236.2 L1388.1 235.4 L1391.0 234.5 L1393.9 233.6 L1396.8 232.7 L1399.7 231.8 L1402.6 230.9 L1405.5 230.0 L1408.4 229.1 L1411.2 228.2 L1414.1 227.3 L1417.0 226.4 L1419.9 225.5 L1422.8 224.6 L1425.7 223.7 L1428.6 222.8 L1431.5 222.0 L1434.4 221.1 L1437.3 220.2 L1440.2 219.4 L1443.1 218.5 L1446.0 217.7 L1448.9 216.9 L1451.8 216.0 L1454.7 215.2 L1457.6 214.4 L1460.5 213.7 L1463.4 212.9 L1466.3 212.2 L1469.2 211.4 L1472.1 210.7 L1475.1 210.0 L1478.0 209.4 L1480.9 208.7 L1483.8 208.1 L1486.8 207.4 L1489.7 206.9 L1492.6 206.3 L1495.6 205.7 L1498.5 205.2 L1501.4 204.7 L1504.4 204.2 L1507.3 203.8 L1510.3 203.4 L1513.2 203.0 L1516.2 202.6 L1519.2 202.2 L1522.1 201.9 L1525.1 201.6 L1528.0 201.3 L1531.0 201.0 L1534.0 200.7 L1537.0 200.5 L1539.9 200.2 L1542.9 200.0 L1545.9 199.8 L1548.9 199.6 L1551.9 199.5 L1554.8 199.3 L1557.8 199.2 L1560.8 199.0 L1563.8 198.9 L1566.8 198.8 L1569.8 198.7 L1572.8 198.6 L1575.8 198.6 L1578.8 198.5 L1581.8 198.4 L1584.8 198.4 L1587.8 198.3 L1590.8 198.3 L1593.8 198.3 L1596.8 198.2 L1599.8 198.2 L1602.8 198.2 L1605.8 198.2 L1608.8 198.1 L1611.8 198.1 L1614.8 198.1 L1617.8 198.1 L1620.8 198.1 L1623.8 198.1 L1626.8 198.1 L1629.8 198.1 L1632.8 198.0 L1635.8 198.0 L1638.8 198.0 L1641.8 198.0 L1644.8 197.9 L1647.8 197.9 L1650.9 197.9 L1653.9 197.8 L1656.9 197.8 L1659.9 197.7 L1662.9 197.7 L1665.9 197.6 L1668.9 197.6 L1671.9 197.5 L1674.9 197.5 L1677.9 197.4 L1680.9 197.3 L1683.9 197.3 L1686.9 197.2 L1689.9 197.2 L1692.9 197.2 L1695.9 197.1 L1698.9 197.1 L1701.9 197.0 L1704.9 197.0 L1707.8 197.0 L1710.8 197.0 L1713.8 197.0 L1716.8 197.0 L1719.8 197.0 L1722.8 197.0 L1725.8 197.0 L1728.8 197.0 L1731.8 197.0 L1734.8 197.1 L1737.8 197.1 L1740.8 197.2 L1743.8 197.3 L1746.8 197.3 L1749.8 197.4 L1752.7 197.5 L1755.7 197.6 L1758.7 197.7 L1761.7 197.9 L1764.7 198.0 L1767.7 198.1 L1770.7 198.3 L1773.7 198.5 L1776.6 198.6 L1779.6 198.8 L1782.6 199.0 L1785.6 199.2 L1788.6 199.4 L1791.6 199.6 L1794.6 199.8 L1797.5 200.0 L1800.5 200.2 L1803.5 200.5 L1806.5 200.7 L1809.5 201.0 L1812.5 201.2 L1815.4 201.5 L1818.4 201.7 L1821.4 202.0 L1824.4 202.3 L1827.4 202.5 L1830.3 202.8 L1833.3 203.1 L1836.3 203.4 L1839.3 203.7 L1842.3 204.0 L1845.2 204.3 L1848.2 204.6 L1851.2 204.9 L1854.2 205.2 L1857.2 205.5 L1860.1 205.9 L1863.1 206.2 L1866.1 206.5 L1869.1 206.8 L1872.1 207.2 L1875.0 207.5 L1878.0 207.8 L1881.0 208.2 L1884.0 208.5 L1887.0 208.8 L1889.9 209.2 L1892.9 209.5 L1895.9 209.9 L1898.9 210.2 L1901.9 210.5 L1904.8 210.9 L1907.8 211.2 L1910.8 211.6 L1913.8 211.9 L1916.8 212.3 L1919.7 212.6 L1922.7 212.9 L1925.7 213.3 L1928.7 213.6 L1931.6 213.9 L1934.6 214.3 L1937.6 214.6 L1940.6 214.9 L1943.6 215.3 L1946.6 215.6 L1949.5 215.9 L1952.5 216.3 L1955.5 216.6 L1958.5 216.9 L1961.5 217.2 L1964.4 217.5 L1967.4 217.8 L1970.4 218.1 L1973.4 218.4 L1976.4 218.7 L1979.3 219.0 L1982.3 219.3 L1985.3 219.6 L1988.3 219.9 L1991.3 220.1 L1994.3 220.4 L1997.3 220.7 L2000.2 220.9 L2003.2 221.2 L2006.2 221.4 L2009.2 221.6 L2012.2 221.9 L2015.2 222.1 L2018.2 222.3 L2021.1 222.5 L2024.1 222.7 L2027.1 222.9 L2030.1 223.1 L2033.1 223.3 L2036.1 223.5 L2039.1 223.7 L2042.1 223.8 L2045.1 224.0 L2048.0 224.1 L2051.0 224.2 L2054.0 224.4 L2057.0 224.5 L2060.0 224.6 L2063.0 224.7 L2066.0 224.8 L2069.0 224.9 L2072.0 224.9 L2075.0 225.0 L2078.0 225.0 L2081.0 225.1 L2084.0 225.1 L2087.0 225.1 L2090.0 225.1 L2093.0 225.1 L2096.0 225.1 L2099.0 225.1 L2102.0 225.1 L2105.0 225.0 L2108.0 224.9 L2111.0 224.9 L2114.0 224.8 L2120.0 222.0 L2123.0 213.0 L2127.0 205.0 L2133.0 203.0 L2150.0 203.0" fill="none" stroke="#00f" stroke-width="11" stroke-linejoin="round" stroke-linecap="butt"/><line x1="1576" y1="107" x2="1576" y2="779" stroke="#000" stroke-width="11" stroke-dasharray="52 51.3"/><rect x="181.5" y="39.5" width="1967.5" height="1455.0" fill="none" stroke="#000" stroke-width="11"/><line x1="181.5" y1="1494.5" x2="181.5" y2="1529" stroke="#000" stroke-width="10"/><line x1="322.1" y1="1494.5" x2="322.1" y2="1515" stroke="#000" stroke-width="10"/><line x1="462.6" y1="1494.5" x2="462.6" y2="1529" stroke="#000" stroke-width="10"/><line x1="603.1" y1="1494.5" x2="603.1" y2="1515" stroke="#000" stroke-width="10"/><line x1="743.7" y1="1494.5" x2="743.7" y2="1529" stroke="#000" stroke-width="10"/><line x1="884.2" y1="1494.5" x2="884.2" y2="1515" stroke="#000" stroke-width="10"/><line x1="1024.8" y1="1494.5" x2="1024.8" y2="1529" stroke="#000" stroke-width="10"/><line x1="1165.3" y1="1494.5" x2="1165.3" y2="1515" stroke="#000" stroke-width="10"/><line x1="1305.9" y1="1494.5" x2="1305.9" y2="1529" stroke="#000" stroke-width="10"/><line x1="1446.5" y1="1494.5" x2="1446.5" y2="1515" stroke="#000" stroke-width="10"/><line x1="1587.0" y1="1494.5" x2="1587.0" y2="1529" stroke="#000" stroke-width="10"/><line x1="1727.5" y1="1494.5" x2="1727.5" y2="1515" stroke="#000" stroke-width="10"/><line x1="1868.1" y1="1494.5" x2="1868.1" y2="1529" stroke="#000" stroke-width="10"/><line x1="2008.6" y1="1494.5" x2="2008.6" y2="1515" stroke="#000" stroke-width="10"/><line x1="2149.2" y1="1494.5" x2="2149.2" y2="1529" stroke="#000" stroke-width="10"/><text class="b" transform="translate(181.5 1600) scale(0.965 1)" x="0" y="0" font-size="73.5" text-anchor="middle">0</text><text class="b" transform="translate(462.6 1600) scale(0.965 1)" x="0" y="0" font-size="73.5" text-anchor="middle">100</text><text class="b" transform="translate(743.7 1600) scale(0.965 1)" x="0" y="0" font-size="73.5" text-anchor="middle">200</text><text class="b" transform="translate(1024.8 1600) scale(0.965 1)" x="0" y="0" font-size="73.5" text-anchor="middle">300</text><text class="b" transform="translate(1305.9 1600) scale(0.965 1)" x="0" y="0" font-size="73.5" text-anchor="middle">400</text><text class="b" transform="translate(1587.0 1600) scale(0.965 1)" x="0" y="0" font-size="73.5" text-anchor="middle">500</text><text class="b" transform="translate(1868.1 1600) scale(0.965 1)" x="0" y="0" font-size="73.5" text-anchor="middle">600</text><text class="b" transform="translate(2149.2 1600) scale(0.965 1)" x="0" y="0" font-size="73.5" text-anchor="middle">700</text><text class="b" transform="translate(840.3 1703) scale(0.982 1)" x="0" y="0" font-size="103">Temperature</text><text font-family="WenQuanYi Zen Hei, Noto Sans CJK SC, sans-serif" transform="translate(1397.5 1703) scale(1.3 1)" x="0" y="0" font-size="102">(</text><text font-family="WenQuanYi Zen Hei, Noto Sans CJK SC, sans-serif" x="1438.3" y="1700" font-size="95">℃</text><text font-family="WenQuanYi Zen Hei, Noto Sans CJK SC, sans-serif" transform="translate(1525 1703) scale(1.3 1)" x="0" y="0" font-size="102">)</text><g transform="translate(96.5 982.5) rotate(-90)"><text class="b" transform="scale(1.026 1)" x="-2.9" y="0" font-size="98">Intensity</text><text font-family="WenQuanYi Zen Hei, Noto Sans CJK SC, sans-serif" transform="translate(372.2 4.35) scale(1.5 1)" x="0" y="0" font-size="107">(</text><text class="b" x="408.9" y="0" font-size="98">a.u.</text><text font-family="WenQuanYi Zen Hei, Noto Sans CJK SC, sans-serif" transform="translate(552.8 4.35) scale(1.5 1)" x="0" y="0" font-size="107">)</text></g><line x1="1511" y1="924" x2="1695" y2="924" stroke="#000" stroke-width="11"/><text class="r" transform="translate(1713 952.5) scale(0.977 1)" x="0" y="0" font-size="80">Pt/Al<tspan font-size="50">2</tspan>O<tspan font-size="50">3</tspan></text><line x1="1511" y1="1020.5" x2="1695" y2="1020.5" stroke="#f00" stroke-width="11"/><text class="r" transform="translate(1713 1048.3) scale(0.977 1)" x="0" y="0" font-size="80">Pt-Ni/Al<tspan font-size="50">2</tspan>O<tspan font-size="50">3</tspan></text><line x1="1511" y1="1116" x2="1695" y2="1116" stroke="#0f0" stroke-width="11"/><text class="r" transform="translate(1713 1144) scale(0.977 1)" x="0" y="0" font-size="80">Pt-Co/Al<tspan font-size="50">2</tspan>O<tspan font-size="50">3</tspan></text><line x1="1511" y1="1212" x2="1695" y2="1212" stroke="#00f" stroke-width="11"/><text class="r" transform="translate(1713 1239.7) scale(0.977 1)" x="0" y="0" font-size="80">Pt-Cu/Al<tspan font-size="50">2</tspan>O<tspan font-size="50">3</tspan></text><text class="r" x="394.3" y="962" font-size="56" text-anchor="middle">(70)</text><text class="r" x="423" y="1240" font-size="56" text-anchor="middle">(72)</text><text class="r" x="458.6" y="1463.5" font-size="56" text-anchor="middle">(76)</text><text class="r" x="1585" y="842" font-size="56" text-anchor="middle">(491)</text><text font-family="WenQuanYi Zen Hei, Noto Sans CJK SC, sans-serif" x="431.4" y="835.4" font-size="82">(</text><text class="r" x="454" y="833.5" font-size="56">93</text><text font-family="WenQuanYi Zen Hei, Noto Sans CJK SC, sans-serif" x="511.4" y="835.4" font-size="82">)</text></svg></body></html>
